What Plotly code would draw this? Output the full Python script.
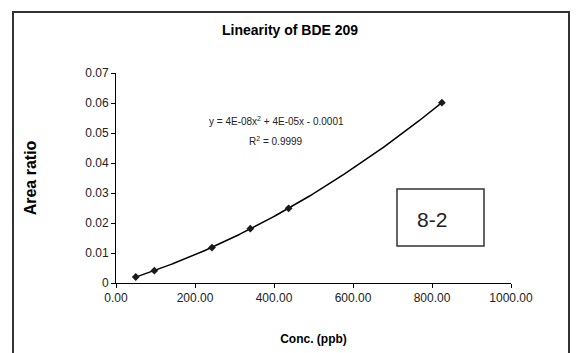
import numpy as np
import plotly.graph_objects as go

conc = [50, 97, 243, 340, 437, 825]
area_ratio = [0.002, 0.0041, 0.0118, 0.0181, 0.0249, 0.0601]
x_ticks = [0, 200, 400, 600, 800, 1000]
x_tick_labels = ["0.00", "200.00", "400.00", "600.00", "800.00", "1000.00"]
y_ticks = [0, 0.01, 0.02, 0.03, 0.04, 0.05, 0.06, 0.07]
y_tick_labels = ["0", "0.01", "0.02", "0.03", "0.04", "0.05", "0.06", "0.07"]

coef = np.polyfit(conc, area_ratio, 2)
xs = np.linspace(min(conc), max(conc), 200)
ys = np.polyval(coef, xs)

W, H = 576, 353
L, R, T, B = 116, 65, 73, 70
pw, ph = W - L - R, H - T - B

def px(xp):
    return (xp - L) / pw

def py(yp):
    return (H - B - yp) / ph

font = "Liberation Sans, Arial, sans-serif"
fig = go.Figure()
fig.add_trace(go.Scatter(x=xs, y=ys, mode="lines", line=dict(color="black", width=1.5),
                         hoverinfo="skip", showlegend=False))
fig.add_trace(go.Scatter(x=conc, y=area_ratio, mode="markers",
                         marker=dict(symbol="diamond", size=6, color="#1a1a1a"),
                         showlegend=False))

fig.update_layout(
    width=W, height=H,
    margin=dict(l=L, r=R, t=T, b=B, autoexpand=False),
    paper_bgcolor="white", plot_bgcolor="white",
    font=dict(family=font, size=12, color="black"),
    showlegend=False,
    xaxis=dict(range=[0, 1000], tickvals=x_ticks, ticktext=x_tick_labels, automargin=False,
               showgrid=False, zeroline=False, showline=True, linecolor="black", linewidth=1,
               ticks="outside", ticklen=4, tickcolor="black", tickfont=dict(size=12, color="#222222"),
               title=dict(text="<b>Conc. (ppb)</b>", font=dict(size=12), standoff=30)),
    yaxis=dict(range=[0, 0.07], tickvals=y_ticks, ticktext=y_tick_labels, automargin=False,
               showgrid=False, zeroline=False, showline=True, linecolor="black", linewidth=1,
               ticks="outside", ticklen=4, tickcolor="black", tickfont=dict(size=12, color="#222222"),
               title=dict(text="<b>Area ratio</b>", font=dict(size=16), standoff=44)),
    annotations=[
        dict(text="<b>Linearity of BDE 209</b>", xref="paper", yref="paper",
             x=px(290), y=py(30), showarrow=False, font=dict(size=14), xanchor="center", yanchor="middle"),
        dict(text="y = 4E-08x<sup>2</sup> + 4E-05x - 0.0001", xref="paper", yref="paper",
             x=px(276), y=py(121), showarrow=False, font=dict(size=10, color="#222222"),
             xanchor="center", yanchor="middle"),
        dict(text="R<sup>2</sup> = 0.9999", xref="paper", yref="paper",
             x=px(276), y=py(141), showarrow=False, font=dict(size=10, color="#222222"),
             xanchor="center", yanchor="middle"),
        dict(text="8-2", xref="paper", yref="paper",
             x=px(432), y=py(219), showarrow=False, font=dict(size=21, color="#222222"),
             xanchor="center", yanchor="middle"),
    ],
    shapes=[
        dict(type="rect", xref="paper", yref="paper", x0=px(13), x1=px(569), y0=py(380), y1=py(12),
             line=dict(color="#333333", width=2), fillcolor="rgba(0,0,0,0)", layer="below"),
        dict(type="rect", xref="paper", yref="paper", x0=px(397), x1=px(484), y0=py(246), y1=py(189),
             line=dict(color="#333333", width=1.5), fillcolor="white"),
    ],
)
fig.write_html("out.html")
